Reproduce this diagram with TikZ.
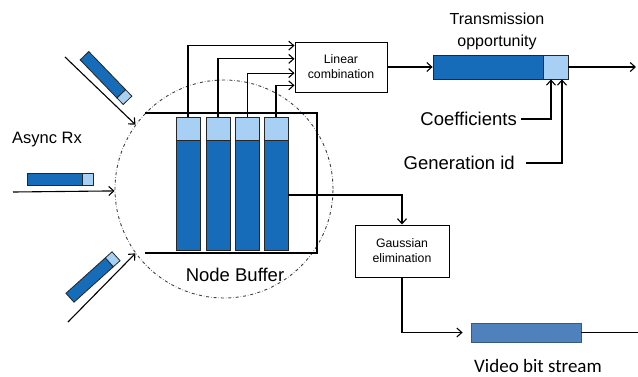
\documentclass[tikz,border=0pt]{standalone}
\usepackage{fontspec}
\setmainfont{Liberation Sans}
\newfontfamily\calibrifont{Carlito}
\usetikzlibrary{arrows.meta,calc}
\definecolor{dblue}{HTML}{176CBA}
\definecolor{lblue}{HTML}{A8D0F5}
\definecolor{vblue}{HTML}{4F81BD}
\begin{document}
\begin{tikzpicture}[x=1pt,y=-1pt,
  tip/.style={-{Straight Barb[length=5pt,width=9pt]},line width=1.1pt},
  dpk/.style={draw=black!85,fill=dblue,line width=0.8pt,inner sep=0pt,minimum height=12pt},
  lpk/.style={draw=black!85,fill=lblue,line width=0.8pt,inner sep=0pt,minimum height=12pt},
  procbox/.style={draw=black,fill=white,line width=1pt,align=center,inner sep=0pt,font=\fontsize{12.3}{15}\selectfont},
  lbl/.style={inner sep=0pt,font=\fontsize{18.5}{22}\selectfont},
]
\useasboundingbox (0,0) rectangle (638,376);

% buffer circle
\node[circle,draw=black!75,dash dot,line width=0.9pt,minimum size=218pt,inner sep=0pt] (buf) at (224,189) {};

% bracket of buffer
\coordinate (brtl) at (145,113);
\coordinate (brtr) at (317,113);
\coordinate (brbr) at (317,253);
\coordinate (brbl) at (145,253);
\draw[line width=2pt] (brtl) -- (brtr) -- (brbr) -- (brbl);

% columns
\foreach \i/\x in {1/188,2/218,3/247.5,4/276}{
  \node[dpk,minimum width=24pt,minimum height=110pt] (c\i) at (\x,195) {};
  \node[lpk,minimum width=24pt,minimum height=23pt] (c\i t) at (\x,128.5) {};
}

% linear combination
\node[procbox,minimum width=92pt,minimum height=50pt] (lc) at (341,67) {Linear\\combination};
\draw[tip] (c1t.north) |- ($(lc.north west)!0.08!(lc.south west)$);
\draw[tip] (c2t.north) |- ($(lc.north west)!0.34!(lc.south west)$);
\draw[tip] (c3t.north) |- ($(lc.north west)!0.62!(lc.south west)$);
\draw[tip] (c4t.north) |- ($(lc.north west)!0.86!(lc.south west)$);

% transmission packet
\node[dpk,minimum width=110pt,minimum height=24pt] (tp) at (488,67) {};
\node[lpk,minimum width=25pt,minimum height=24pt] (tpl) at (555.5,67) {};
\draw[tip] (lc.east) -- (tp.west);
\coordinate (txend) at (636,67);
\draw[tip] (tpl.east) -- (txend);
\node[inner sep=0pt,align=center,font=\fontsize{16}{22}\selectfont] (txt) at (497,31) {Transmission\\opportunity};

\node[lbl,anchor=east,inner xsep=4pt] (coef) at (521,119) {Coefficients};
\node[lbl,anchor=east,inner xsep=11pt] (gid) at (526,163) {Generation id};
\draw[tip] (coef.east) -| ([xshift=-4.5pt]tpl.south);
\draw[tip] (gid.east) -| ([xshift=6.5pt]tpl.south);

% gaussian elimination
\node[procbox,minimum width=94pt,minimum height=52pt] (ge) at (402,251) {Gaussian\\elimination};
\draw[tip] (c4.east) -| (ge.north);

% video packet
\node[draw=vblue!70!black,fill=vblue,line width=0.8pt,inner sep=0pt,minimum width=110pt,minimum height=19pt] (vp) at (526,332.5) {};
\draw[tip,shorten >=8pt] (ge.south) |- (vp.west);
\coordinate (vend) at (638,332.5);
\draw[line width=1.8pt] (vp.east) -- (vend);
\node[inner sep=0pt,font=\calibrifont\fontsize{19}{22}\selectfont] (vbs) at (538,366) {Video bit stream};

% labels
\node[lbl] (nb) at (235,275) {Node Buffer};
\node[inner sep=0pt,font=\fontsize{16.5}{20}\selectfont] (arx) at (47,140) {Async Rx};

% incoming packets
\begin{scope}[shift={(106,78)},rotate=-46,transform shape]
  \node[dpk,minimum width=53pt] (p1) at (-4.5,0) {};
  \node[lpk,minimum width=9pt] (p1l) at (26.5,0) {};
\end{scope}
\node[dpk,minimum width=55pt] (p2) at (54.5,179) {};
\node[lpk,minimum width=11pt] (p2l) at (87.5,179) {};
\begin{scope}[shift={(93,277)},rotate=42,transform shape]
  \node[dpk,minimum width=53pt] (p3) at (-4.5,0) {};
  \node[lpk,minimum width=9pt] (p3l) at (26.5,0) {};
\end{scope}

\coordinate (a1) at (65,57);
\coordinate (a2) at (13,192);
\coordinate (a3) at (68,322);
\draw[tip] (a1) -- (buf.144);
\draw[tip] (a2) -- (buf.181);
\draw[tip] (a3) -- (buf.216);
\end{tikzpicture}
\end{document}
